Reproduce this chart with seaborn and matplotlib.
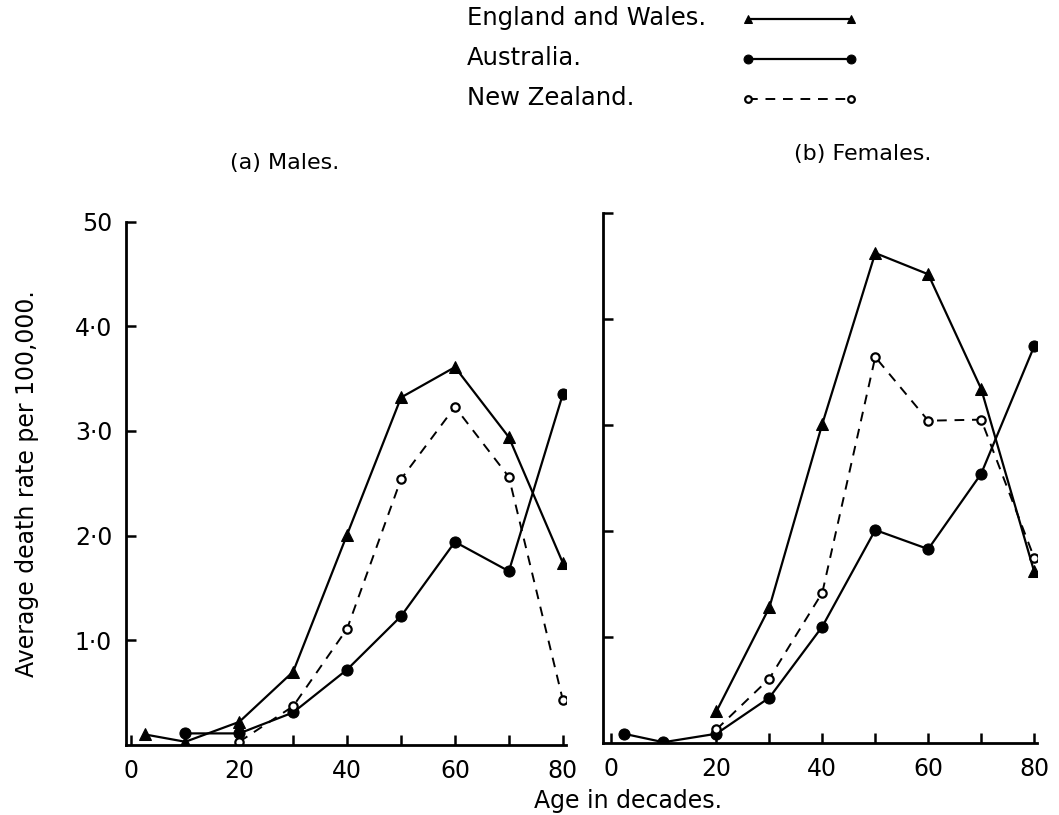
import matplotlib
matplotlib.use("Agg")
import matplotlib.pyplot as plt
import seaborn as sns

sns.set_style("ticks")
plt.rcParams['font.family'] = ['DejaVu Sans']
plt.rcParams['font.size'] = 15
plt.rcParams.update({'text.color': 'black', 'axes.labelcolor': 'black',
                     'xtick.color': 'black', 'ytick.color': 'black'})

# Ages (decade points, first point is the 0-5 group)
ages_full = [2.5, 10, 20, 30, 40, 50, 60, 70, 80]
ages_10 = [10, 20, 30, 40, 50, 60, 70, 80]
ages_20 = [20, 30, 40, 50, 60, 70, 80]

# (a) Males
males_ew = [0.10, 0.03, 0.22, 0.70, 2.01, 3.32, 3.61, 2.94, 1.74]
males_aus = [0.11, 0.11, 0.31, 0.72, 1.23, 1.94, 1.66, 3.35]
males_nz = [0.03, 0.37, 1.11, 2.54, 3.23, 2.56, 0.43]

# (b) Females
females_ew = [0.30, 1.28, 3.01, 4.62, 4.42, 3.34, 1.62]
females_aus = [0.09, 0.01, 0.09, 0.43, 1.10, 2.01, 1.83, 2.54, 3.74]
females_nz = [0.13, 0.61, 1.42, 3.64, 3.04, 3.05, 1.75]

countries = ["England and Wales.", "Australia.", "New Zealand."]
panel_titles = ["(a) Males.", "(b) Females."]
ytick_vals = [1, 2, 3, 4, 5]
ytick_labels = ["1·0", "2·0", "3·0", "4·0", "50"]
xtick_vals = [0, 20, 40, 60, 80]
xtick_labels = ["0", "20", "40", "60", "80"]
xminor_vals = [30, 50, 70]

fig = plt.figure(figsize=(10.59, 8.15), dpi=100)
ax1 = fig.add_axes([0.119, 0.086, 0.415, 0.642])
ax2 = fig.add_axes([0.569, 0.088, 0.410, 0.651])

ew_style = dict(marker='^', markersize=8, markerfacecolor='black',
                markeredgecolor='black', color='black', linewidth=1.6)
aus_style = dict(marker='o', markersize=8, markerfacecolor='black',
                 markeredgecolor='black', color='black', linewidth=1.6)
nz_style = dict(marker='o', markersize=6, markerfacecolor='white',
                markeredgecolor='black', markeredgewidth=1.6, color='black',
                linewidth=1.4, linestyle=(0, (5, 4)))


def draw_panel(ax, ew_x, ew, aus_x, aus, nz_x, nz):
    sns.lineplot(x=ew_x, y=ew, ax=ax, legend=False, **ew_style)
    sns.lineplot(x=aus_x, y=aus, ax=ax, legend=False, **aus_style)
    sns.lineplot(x=nz_x, y=nz, ax=ax, legend=False, **nz_style)
    ax.set_ylim(0, 5.0)
    sns.despine(ax=ax)
    for s in ['left', 'bottom']:
        ax.spines[s].set_linewidth(2)
        ax.spines[s].set_color('black')
    ax.set_xticks(xtick_vals)
    ax.set_xticklabels(xtick_labels)
    ax.set_xticks(xminor_vals, minor=True)
    ax.set_yticks(ytick_vals)
    ax.tick_params(axis='both', which='both', direction='in', length=7,
                   width=1.8, color='black', labelsize=17, pad=10)
    ax.set_xlabel("")


draw_panel(ax1, ages_full, males_ew, ages_10, males_aus, ages_20, males_nz)
draw_panel(ax2, ages_20, females_ew, ages_full, females_aus, ages_20, females_nz)

ax1.set_xlim(-1, 80.5)
ax2.set_xlim(-1.5, 80.5)
ax1.set_yticklabels(ytick_labels)
ax2.set_yticklabels([])
ax1.set_ylabel("Average death rate per 100,000.", fontsize=17, labelpad=26)

ax1.set_title(panel_titles[0], fontsize=16, pad=38)
ax1.title.set_position((0.36, 1.0))
ax2.set_title(panel_titles[1], fontsize=16, pad=38)
ax2.title.set_position((0.60, 1.0))

fig.supxlabel("Age in decades.", x=0.593, y=0.003, va='bottom', fontsize=17)

# legend: names on the left, line samples on the right
handles = [ax1.lines[0], ax1.lines[1], ax1.lines[2]]
leg = fig.legend(handles, [" "] * 3, loc='upper left',
                 bbox_to_anchor=(0.690, 1.0), frameon=False, numpoints=2,
                 handlelength=5.2, fontsize=16, labelspacing=0.9,
                 borderpad=0.0, handletextpad=0.2, markerscale=0.8)
for i, name in enumerate(countries):
    fig.text(0.441, 0.978 - i * 0.049, name, fontsize=17.5, va='center')

fig.savefig("out.png", dpi=100)
